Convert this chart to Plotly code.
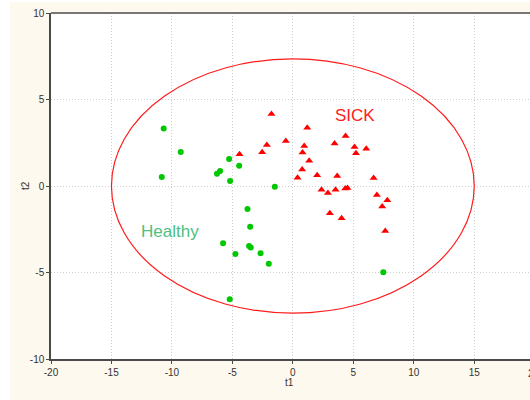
import plotly.graph_objects as go

# Scores on the first two components (t1, t2)
healthy_t1 = [-10.68, -9.27, -10.84, -5.27, -4.44, -6.02, -6.27, -5.19, -1.49,
              -3.75, -3.53, -5.77, -4.75, -3.62, -3.48, -2.67, -1.99, -5.22, 7.48]
healthy_t2 = [3.33, 1.97, 0.52, 1.56, 1.17, 0.87, 0.71, 0.29, -0.04,
              -1.33, -2.35, -3.31, -3.93, -3.47, -3.56, -3.89, -4.49, -6.55, -4.99]

sick_t1 = [-4.41, -2.54, -2.15, -1.77, -0.58, 0.39, 0.77, 0.80, 0.94, 1.19,
           1.35, 2.01, 2.37, 2.90, 3.06, 3.45, 3.53, 3.67, 4.03, 4.33,
           4.36, 4.52, 5.10, 5.22, 6.07, 6.68, 6.95, 7.39, 7.81, 7.64]
sick_t2 = [1.83, 1.95, 2.37, 4.16, 2.60, 0.48, 0.96, 1.93, 2.31, 3.37,
           1.46, 0.62, -0.21, -0.40, -1.58, 2.45, -0.21, 0.58, -1.87, -0.15,
           2.89, -0.12, 2.25, 1.89, 2.16, 0.46, -0.52, -1.19, -0.83, -2.60]

# Hotelling T2 ellipse semi-axes
ellipse_a = 15.0
ellipse_b = 7.35

x_ticks = [-20, -15, -10, -5, 0, 5, 10, 15]
x_tick_text = ["-20", "-15", "-10", "-5", "0", "5", "10", "15"]
y_ticks = [-10, -5, 0, 5, 10]
y_tick_text = ["-10", "-5", "0", "5", "10"]

W, H = 530, 400
ML, MR, MT, MB = 51, 0, 13, 41
pw = W - ML - MR
ph = H - MT - MB

cream = "#FDF9EE"
tick_font = dict(family="Arial, Liberation Sans, sans-serif", size=10, color="#333333")

fig = go.Figure()
fig.add_trace(go.Scatter(
    x=healthy_t1, y=healthy_t2, mode="markers", name="Healthy",
    marker=dict(symbol="circle", size=6, color="#00C800"),
))
fig.add_trace(go.Scatter(
    x=sick_t1, y=sick_t2, mode="markers", name="SICK",
    marker=dict(symbol="triangle-up", size=7, color="#FF0000"),
))

def px_x(p):
    return (p - ML) / pw

def px_y(p):
    return (H - MB - p) / ph

shapes = [
    # white strips at the left and top edges of the page
    dict(type="rect", xref="paper", yref="paper", x0=px_x(0), x1=px_x(10),
         y0=px_y(H), y1=px_y(0), fillcolor="white", line=dict(width=0), layer="below"),
    dict(type="rect", xref="paper", yref="paper", x0=px_x(0), x1=px_x(W),
         y0=px_y(2), y1=px_y(0), fillcolor="white", line=dict(width=0), layer="below"),
    # top frame line
    dict(type="line", xref="paper", yref="paper", x0=0, x1=1, y0=1, y1=1,
         line=dict(color="#4a4a4a", width=1.5)),
    # confidence ellipse
    dict(type="circle", xref="x", yref="y", x0=-ellipse_a, x1=ellipse_a,
         y0=-ellipse_b, y1=ellipse_b, line=dict(color="#FF1A1A", width=1.2)),
]

label_font = dict(family="Arial, Liberation Sans, sans-serif", size=17)
annotations = [
    dict(text="SICK", x=5.13, y=4.1, xref="x", yref="y", showarrow=False,
         font=dict(label_font, color="#FF2020")),
    dict(text="Healthy", x=-10.14, y=-2.64, xref="x", yref="y", showarrow=False,
         font=dict(label_font, color="#4DC07E")),
    dict(text="t1", x=px_x(289), y=px_y(382), xref="paper", yref="paper",
         xanchor="center", yanchor="middle", showarrow=False, font=tick_font),
    dict(text="t2", x=px_x(25), y=px_y(186), xref="paper", yref="paper",
         xanchor="center", yanchor="middle", showarrow=False, textangle=-90,
         font=tick_font),
    dict(text="20", x=px_x(534.4), y=px_y(373), xref="paper", yref="paper",
         xanchor="center", yanchor="middle", showarrow=False, font=tick_font),
]

axis_style = dict(
    showgrid=True, gridcolor="#cfcfcf", griddash="1px,2px", gridwidth=1,
    zeroline=False, showline=True, linecolor="#4a4a4a", linewidth=1.5,
    ticks="outside", ticklen=3, tickcolor="#4a4a4a", tickfont=tick_font,
)

fig.update_layout(
    width=W, height=H,
    margin=dict(l=ML, r=MR, t=MT, b=MB, pad=0),
    paper_bgcolor=cream, plot_bgcolor="white",
    showlegend=False,
    shapes=shapes, annotations=annotations,
    xaxis=dict(range=[-20, (W - MR - 293) / 12.085], tickvals=x_ticks,
               ticktext=x_tick_text, **axis_style),
    yaxis=dict(range=[-10, 10], tickvals=y_ticks, ticktext=y_tick_text,
               **axis_style),
)

fig.write_html("out.html")
